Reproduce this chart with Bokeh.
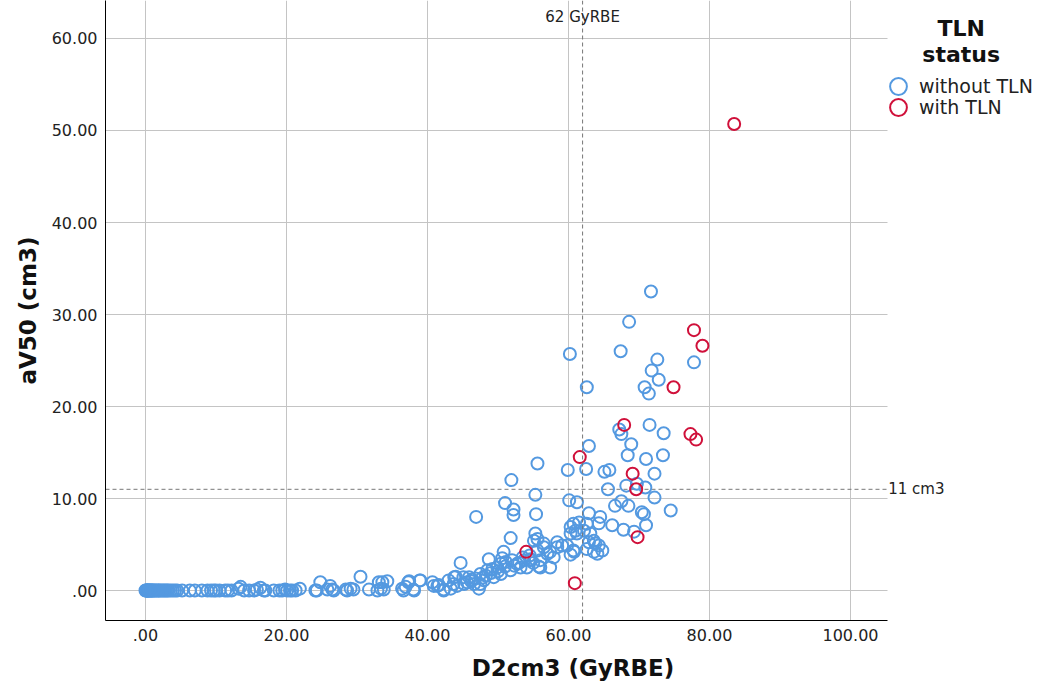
from bokeh.plotting import figure
from bokeh.models import Span, Label, Legend, LegendItem, Range1d, FixedTicker
from bokeh.embed import file_html
from bokeh.resources import INLINE

# ---- data: without TLN ----
without_x = [
    0.0, 0.1, 0.15, 0.2, 0.3, 0.35, 0.4, 0.5, 0.6, 0.7, 0.8, 0.9, 1.0, 1.1, 1.3, 1.4, 1.6, 1.8, 1.9, 2.1,
    2.3, 2.5, 2.7, 2.9, 3.1, 3.3, 3.6, 3.9, 4.2, 4.5,
    5.2, 6.3, 7.0, 8.0, 8.8, 9.3, 9.7, 10.0, 10.5, 11.3, 11.7, 12.2, 13.2, 13.5, 14.0, 14.7, 15.4, 15.8,
    16.3, 16.8, 17.0, 18.2, 19.0, 19.4, 19.8, 20.1, 20.5, 20.8, 21.3, 21.9,
    24.1, 24.3, 24.8, 25.8, 26.2, 26.5, 26.7, 28.4, 28.6, 29.1, 29.5, 30.5, 31.7, 32.9, 33.1, 33.4, 33.6,
    33.8, 34.3, 36.4, 36.6, 36.9, 37.3, 37.4, 38.0, 38.1, 38.9, 39.0,
    40.7, 40.9, 41.4, 41.6, 42.3, 42.3, 43.0, 43.3, 43.7, 43.8, 44.0, 44.2, 44.7, 45.1, 45.2, 45.6, 45.9,
    46.2, 46.3, 46.6, 46.8, 47.3, 47.5, 47.5, 47.8, 48.0, 48.3, 48.5, 48.7, 49.0, 49.2, 49.4, 49.9, 50.0,
    50.4, 50.4, 50.6, 50.8, 51.0, 51.1, 51.8, 52.0, 52.3, 52.7, 53.0, 53.2, 53.5, 53.7, 54.1, 54.5, 54.6,
    55.0, 54.6,
    55.3, 55.6, 55.1, 56.5, 57.4, 58.4, 59.1, 57.0, 56.0, 57.9, 59.8, 60.8, 62.9, 63.6, 64.3, 64.8, 63.6,
    62.6, 58.4, 56.5, 60.3, 57.4, 55.6, 56.0, 55.8, 60.7, 63.8, 64.1,
    51.8, 46.9, 51.0, 52.2, 52.2, 55.4, 55.3, 51.9,
    60.7, 61.5, 61.0, 60.3, 62.2, 62.6, 60.3, 61.2, 63.1, 62.9, 64.5, 64.3, 66.2, 67.8, 69.3,
    66.6, 67.5, 68.5, 74.5, 70.4, 70.7, 71.0, 60.1, 61.2, 72.2,
    68.2, 69.7, 65.6, 70.9, 55.6, 59.9, 62.5, 65.1, 65.8, 72.2,
    62.9, 68.9, 68.4, 71.0, 73.4, 67.2, 67.5, 71.5, 73.5,
    62.6, 70.8, 71.4, 72.8, 71.8, 77.8, 72.6, 67.4, 60.2, 68.6, 71.7,
]
without_y = [
    0.0, 0.0, 0.0, 0.0, 0.0, 0.0, 0.0, 0.0, 0.0, 0.0, 0.0, 0.0, 0.0, 0.0, 0.0, 0.0, 0.0, 0.0, 0.0, 0.0,
    0.0, 0.0, 0.0, 0.0, 0.0, 0.0, 0.0, 0.0, 0.0, 0.0,
    0.0, 0.0, 0.0, 0.0, 0.0, 0.0, 0.0, 0.0, 0.0, 0.0, 0.0, 0.0, 0.2, 0.4, 0.0, 0.0, 0.0, 0.1,
    0.3, 0.0, 0.0, 0.0, 0.0, 0.0, 0.1, 0.0, 0.0, 0.0, 0.0, 0.2,
    0.0, 0.0, 0.9, 0.1, 0.5, 0.1, 0.0, 0.1, 0.0, 0.2, 0.1, 1.5, 0.1, 0.0, 0.9, 0.2, 0.9,
    0.1, 1.0, 0.2, 0.0, 0.4, 0.9, 1.0, 0.1, 0.0, 1.1, 1.1,
    0.9, 0.5, 0.5, 0.6, 0.0, 0.1, 1.1, 0.2, 0.7, 1.45, 1.5, 0.5, 3.0, 1.45, 0.7, 0.9, 1.45,
    1.0, 1.2, 0.7, 1.3, 0.2, 1.8, 0.7, 1.4, 1.1, 1.6, 2.2, 3.4, 1.9, 2.35, 1.45, 2.5, 2.1,
    2.9, 1.8, 3.5, 4.2, 2.6, 3.1, 2.2, 3.3, 2.7, 2.9, 3.0, 2.5, 3.6, 3.3, 2.5, 3.8, 3.4,
    3.0, 3.3,
    6.2, 5.6, 5.4, 5.1, 4.2, 5.25, 4.9, 4.0, 2.5, 3.6, 4.9, 4.2, 5.25, 5.4, 4.9, 4.35, 4.2,
    4.5, 4.7, 4.7, 3.9, 2.5, 4.35, 3.3, 2.6, 4.35, 5.1, 4.0,
    5.7, 8.0, 9.5, 8.8, 8.2, 8.3, 10.4, 12.0,
    7.25, 7.4, 6.5, 6.2, 6.5, 7.25, 6.9, 6.2, 6.2, 8.4, 8.0, 7.3, 7.1, 6.6, 6.4,
    9.2, 9.7, 9.2, 8.7, 8.5, 8.3, 7.1, 9.8, 9.6, 10.1,
    11.4, 11.6, 11.0, 11.2, 13.8, 13.1, 13.2, 12.9, 13.1, 12.7,
    15.7, 15.9, 14.7, 14.3, 14.7, 17.5, 17.0, 18.0, 17.1,
    22.1, 22.1, 21.4, 22.9, 23.9, 24.8, 25.1, 26.0, 25.7, 29.2, 32.5,
]

# ---- data: with TLN ----
with_x = [83.5, 77.8, 79.0, 74.9, 67.9, 77.3, 78.1, 61.6, 69.1, 69.6, 69.8, 54.0, 60.9]
with_y = [50.7, 28.3, 26.6, 22.1, 18.0, 17.0, 16.4, 14.5, 12.7, 11.0, 5.8, 4.2, 0.8]

# ---- axes ----
x_ticks = [0, 20, 40, 60, 80, 100]
x_tick_labels = [".00", "20.00", "40.00", "60.00", "80.00", "100.00"]
y_ticks = [0, 10, 20, 30, 40, 50, 60]
y_tick_labels = [".00", "10.00", "20.00", "30.00", "40.00", "50.00", "60.00"]

ref_x = 62
ref_y = 11

X_START, X_END = -5.67, 105.25      # visible plotting area
X_CANVAS_END = 126.95               # room on the right for the legend
Y_START, Y_END = -3.26, 64.13

BLUE = "#5499e0"
RED = "#d0103a"
FONT = "DejaVu Sans"

p = figure(width=1040, height=688, output_backend="svg", toolbar_location=None,
           x_range=Range1d(X_START, X_CANVAS_END), y_range=Range1d(Y_START, Y_END),
           min_border_left=105, min_border_right=0, min_border_top=0, min_border_bottom=68)
p.outline_line_color = None
p.background_fill_color = "white"

for ax in (p.xaxis[0], p.yaxis[0]):
    ax.major_tick_line_color = None
    ax.minor_tick_line_color = None
    ax.major_tick_out = 0
    ax.major_tick_in = 0
    ax.minor_tick_out = 0
    ax.minor_tick_in = 0
    ax.axis_line_color = "black"
    ax.axis_line_width = 1
    ax.major_label_text_font = FONT
    ax.major_label_text_font_size = "16px"
    ax.major_label_text_color = "#222222"
    ax.axis_label_text_font = FONT
    ax.axis_label_text_font_style = "bold"
    ax.axis_label_text_font_size = "23px"
    ax.axis_label_text_color = "#111111"

p.xaxis.bounds = (X_START, X_END)
p.xaxis.ticker = FixedTicker(ticks=x_ticks)
p.yaxis.ticker = FixedTicker(ticks=y_ticks)
p.xaxis.major_label_overrides = dict(zip(x_ticks, x_tick_labels))
p.yaxis.major_label_overrides = dict(zip(y_ticks, y_tick_labels))
p.xaxis.axis_label = "D2cm3 (GyRBE)"
p.yaxis.axis_label = "aV50 (cm3)"
p.xaxis.major_label_standoff = 8
p.yaxis.major_label_standoff = 8
p.xaxis.axis_label_standoff = 11
p.yaxis.axis_label_standoff = 8

p.xgrid.grid_line_color = "#c4c4c4"
p.ygrid.grid_line_color = "#c4c4c4"
p.xgrid.grid_line_width = 1
p.ygrid.grid_line_width = 1
p.ygrid.cross_bounds = (X_START, X_END)

p.add_layout(Span(location=ref_x, dimension="height", line_color="#777777",
                  line_dash="4 3", line_width=1))
p.segment(x0=[X_START], x1=[X_END], y0=[ref_y], y1=[ref_y], line_color="#777777",
          line_dash="4 3", line_width=1)

r_without = p.scatter(without_x, without_y, marker="circle", size=12, fill_color=None,
                      line_color=BLUE, line_width=2)
r_with = p.scatter(with_x, with_y, marker="circle", size=12, fill_color=None,
                   line_color=RED, line_width=2)

p.add_layout(Label(x=ref_x, y=Y_END - 1.8, text="62 GyRBE", text_align="center", text_baseline="middle",
                   text_font=FONT, text_font_size="15px", text_color="#222222"))
p.add_layout(Label(x=X_END + 0.1, y=ref_y, text="11 cm3", text_align="left", text_baseline="middle",
                   text_font=FONT, text_font_size="15px", text_color="#222222"))

# legend title (two centred lines)
p.add_layout(Label(x=115.7, y=61.1, text="TLN", text_align="center", text_baseline="middle",
                   text_font=FONT, text_font_style="bold", text_font_size="22px",
                   text_color="#111111"))
p.add_layout(Label(x=115.7, y=58.3, text="status", text_align="center", text_baseline="middle",
                   text_font=FONT, text_font_style="bold", text_font_size="22px",
                   text_color="#111111"))

# two one-item legends, stacked 21px apart, so the keys can be large
def make_legend(label, renderer, loc):
    lg = Legend(items=[LegendItem(label=label, renderers=[renderer])], location=loc)
    lg.label_text_font = FONT
    lg.label_text_font_size = "19px"
    lg.label_text_color = "#222222"
    lg.border_line_color = None
    lg.background_fill_alpha = 0
    lg.glyph_width = 42
    lg.glyph_height = 42
    lg.label_standoff = 0
    lg.padding = 0
    lg.margin = 0
    return lg

p.add_layout(make_legend("without TLN", r_without, (772, 513)), "center")
p.add_layout(make_legend("with TLN", r_with, (772, 492)), "center")

open("out.html", "w").write(file_html(p, INLINE))
